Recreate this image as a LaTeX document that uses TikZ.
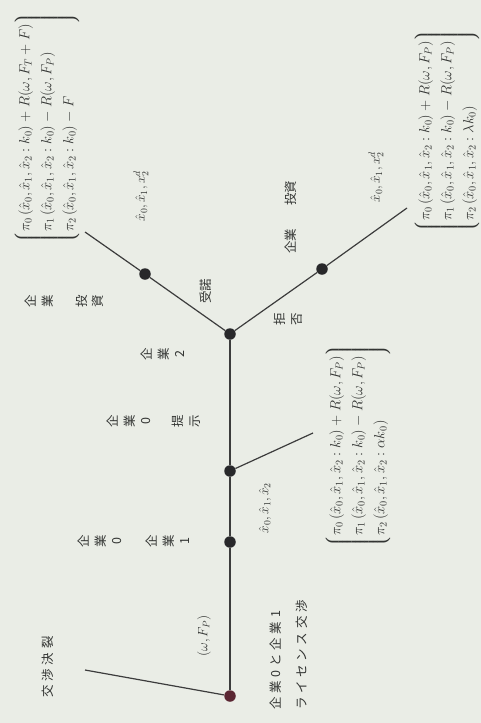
\RequirePackage{fix-cm}
\documentclass[tikz,border=0pt]{standalone}
\usepackage{fontspec}
\usepackage{amsmath}
\newfontfamily\cjk{Noto Sans CJK JP}
\newfontfamily\cjkls{Noto Sans CJK JP}[LetterSpace=30]
\definecolor{bgc}{RGB}{234,237,230}
\definecolor{txtc}{RGB}{50,52,50}
\definecolor{linec}{RGB}{60,60,60}
\definecolor{dotc}{RGB}{40,40,42}
\definecolor{rootc}{RGB}{90,38,50}
\begin{document}
\begin{tikzpicture}[x=1pt,y=-1pt,
  gnode/.style={circle,fill=dotc,inner sep=0pt,minimum size=11.5pt},
  branch/.style={draw=linec,line width=1.2pt},
  yoko/.style={rotate=90,text=txtc,inner sep=0pt,font=\cjkls\fontsize{12.5}{26}\selectfont},
  yokon/.style={rotate=90,text=txtc,inner sep=0pt,font=\cjk\fontsize{12.5}{15}\selectfont},
  tate/.style={rotate=90,text=txtc,inner sep=0pt,align=center,font=\cjk\fontsize{12.5}{16.5}\selectfont},
  mathlbl/.style={rotate=90,text=txtc,inner sep=0pt,font=\fontsize{13.5}{22}\selectfont},
  payoff/.style={rotate=90,text=txtc,inner sep=0pt,font=\fontsize{14.6}{22}\selectfont}]
\fill[bgc] (0,0) rectangle (481,723);
\useasboundingbox (0,0) rectangle (481,723);

% tree nodes
\node[gnode,fill=rootc] (R) at (230,696) {};
\node[gnode] (A) at (230,542) {};
\node[gnode] (B) at (230,471) {};
\node[gnode] (J) at (230,334) {};
\node[gnode] (U1) at (145,274) {};
\node[gnode] (D1) at (322,269) {};
\coordinate (Rend) at (85,670);
\coordinate (Bend) at (313,433);
\coordinate (Uend) at (85,232);
\coordinate (Dend) at (407,208);

\draw[branch] (R) -- (A) -- (B) -- (J);
\draw[branch] (R) -- (Rend);
\draw[branch] (B) -- (Bend);
\draw[branch] (J) -- (U1) -- (Uend);
\draw[branch] (J) -- (D1) -- (Dend);

% horizontal (rotated) Japanese labels
\node[yoko] (l1) at (48,667) {交渉決裂};
\node[yoko,align=left] (l3) at (289,655) {企業0と企業1\\ライセンス交渉};
\node[yokon] (n1) at (206,291) {受諾};
\node[yokon] (n2) at (291,241) {企業};
\node[yokon] (n3) at (291,193) {投資};

% vertical-writing labels
\node[tate] (t1) at (100,541) {企\\業\\0};
\node[tate] (t2) at (168,541) {企\\業\\1};
\node[tate] (t3) at (129,421) {企\\業\\0};
\node[tate] (t4) at (186,421) {提\\示};
\node[tate] (t5) at (163,354) {企\\業\\2};
\node[tate] (t6) at (39,301) {企\\業};
\node[tate] (t7) at (90,301) {投\\資};
\node[tate] (t8) at (288,319) {拒\\否};

% math labels
\node[mathlbl] (l2) at (204,636) {$(\omega,F_P)$};
\node[mathlbl] (x1) at (141,196) {$\hat{x}_0,\hat{x}_1,x_2^{d}$};
\node[mathlbl] (x2) at (376,177) {$\hat{x}_0,\hat{x}_1,x_2^{d}$};
\node[mathlbl] (x3) at (265,508) {$\hat{x}_0,\hat{x}_1,\hat{x}_2$};

% payoff vectors
\node[payoff] (m1) at (47,128) {$\left\lgroup\begin{array}{@{}l@{}}
 \pi_0\,(\hat x_0,\hat x_1,\hat x_2:k_0)+R(\omega,F_T+F)\\
 \pi_1\,(\hat x_0,\hat x_1,\hat x_2:k_0)-R(\omega,F_P)\\
 \pi_2\,(\hat x_0,\hat x_1,\hat x_2:k_0)-F
 \end{array}\right\rgroup$};
\node[payoff] (m2) at (447,131) {$\left\lgroup\begin{array}{@{}l@{}}
 \pi_0\,(\hat x_0,\hat x_1,\hat x_2:k_0)+R(\omega,F_P)\\
 \pi_1\,(\hat x_0,\hat x_1,\hat x_2:k_0)-R(\omega,F_P)\\
 \pi_2\,(\hat x_0,\hat x_1,\hat x_2:\lambda k_0)
 \end{array}\right\rgroup$};
\node[payoff] (m3) at (358,446) {$\left\lgroup\begin{array}{@{}l@{}}
 \pi_0\,(\hat x_0,\hat x_1,\hat x_2:k_0)+R(\omega,F_P)\\
 \pi_1\,(\hat x_0,\hat x_1,\hat x_2:k_0)-R(\omega,F_P)\\
 \pi_2\,(\hat x_0,\hat x_1,\hat x_2:\alpha k_0)
 \end{array}\right\rgroup$};
\end{tikzpicture}
\end{document}
